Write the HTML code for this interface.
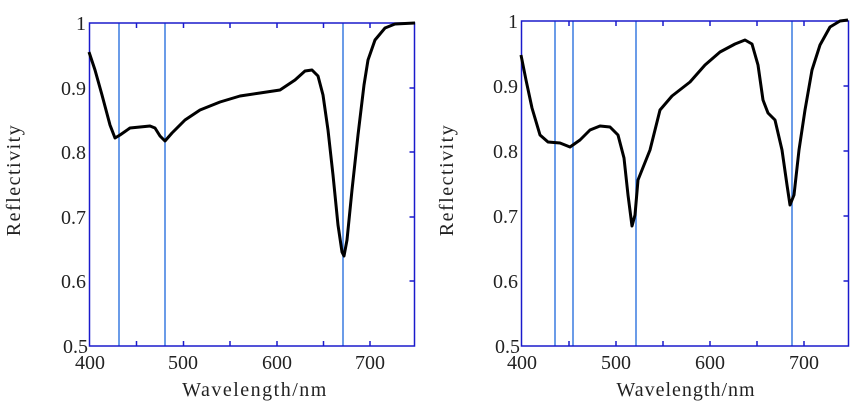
<!DOCTYPE html>
<html><head><meta charset="utf-8"><style>body{margin:0;background:#fff}svg{display:block}text{font-family:"Liberation Serif",serif;fill:#222}</style></head><body>
<svg width="854" height="413" viewBox="0 0 854 413">
<g stroke="#3a7be0" stroke-width="1.5">
<line x1="119" y1="23" x2="119" y2="346"/><line x1="165" y1="23" x2="165" y2="346"/><line x1="343" y1="23" x2="343" y2="346"/>
<line x1="555" y1="21" x2="555" y2="346"/><line x1="573" y1="21" x2="573" y2="346"/><line x1="636" y1="21" x2="636" y2="346"/><line x1="792" y1="21" x2="792" y2="346"/>
</g>
<g stroke="#1a1acc" stroke-width="1.5" fill="none">
<rect x="89.5" y="23" width="325" height="323"/>
<path d="M136.5 346v-5M183.5 346v-5M230 346v-5M277 346v-5M323.5 346v-5M370 346v-5M136.5 23v5M183.5 23v5M230 23v5M277 23v5M323.5 23v5M370 23v5M414.5 88h-5M414.5 152h-5M414.5 217h-5M414.5 281h-5"/>
<rect x="521.5" y="21" width="327" height="325"/>
<path d="M569 346v-5M616 346v-5M663 346v-5M710 346v-5M757 346v-5M804 346v-5M569 21v5M616 21v5M663 21v5M710 21v5M757 21v5M804 21v5M848.5 86h-5M848.5 151h-5M848.5 216h-5M848.5 281h-5"/>
</g>
<g stroke="#000" stroke-width="3" fill="none" stroke-linejoin="round">
<polyline points="89,52 95,70 102,95 110,125 115,138 120,135 130,128 140,127 150,126 155,128 160,136 165,141 172,133 185,120 200,110 220,102 240,96 260,93 280,90 295,80 305,71 312,70 318,76 323,95 328,130 333,175 338,225 342,252 344,256 347,240 352,190 358,135 364,85 368,60 375,40 385,28 395,24 415,23"/>
<polyline points="521,55 526,80 532,108 540,135 548,142 560,143 570,147 580,140 590,130 600,126 610,127 618,135 624,158 628,195 632,226 635,215 638,180 644,165 650,150 660,110 672,96 690,82 705,65 720,52 735,44 745,40 752,44 758,65 763,100 768,113 775,120 782,150 787,185 790,205 794,195 799,150 805,110 812,70 820,45 830,27 840,21 848,20"/>
</g>
<g font-size="20">
<text x="86" y="30" text-anchor="end">1</text><text x="86" y="95" text-anchor="end">0.9</text><text x="86" y="159" text-anchor="end">0.8</text><text x="86" y="224" text-anchor="end">0.7</text><text x="86" y="288" text-anchor="end">0.6</text><text x="88" y="353" text-anchor="end">0.5</text>
<text x="90" y="369" text-anchor="middle">400</text><text x="183" y="369" text-anchor="middle">500</text><text x="277" y="369" text-anchor="middle">600</text><text x="370" y="369" text-anchor="middle">700</text>
<text x="518" y="28" text-anchor="end">1</text><text x="518" y="93" text-anchor="end">0.9</text><text x="518" y="158" text-anchor="end">0.8</text><text x="518" y="223" text-anchor="end">0.7</text><text x="518" y="288" text-anchor="end">0.6</text><text x="520" y="353" text-anchor="end">0.5</text>
<text x="522" y="369" text-anchor="middle">400</text><text x="616" y="369" text-anchor="middle">500</text><text x="710" y="369" text-anchor="middle">600</text><text x="804" y="369" text-anchor="middle">700</text>
<text x="255" y="396" text-anchor="middle" letter-spacing="1.5">Wavelength/nm</text><text x="686" y="396" text-anchor="middle" letter-spacing="1">Wavelength/nm</text>
<text transform="translate(20,180) rotate(-90)" text-anchor="middle" letter-spacing="1.5">Reflectivity</text>
<text transform="translate(453,180) rotate(-90)" text-anchor="middle" letter-spacing="1.5">Reflectivity</text>
</g>
</svg></body></html>
